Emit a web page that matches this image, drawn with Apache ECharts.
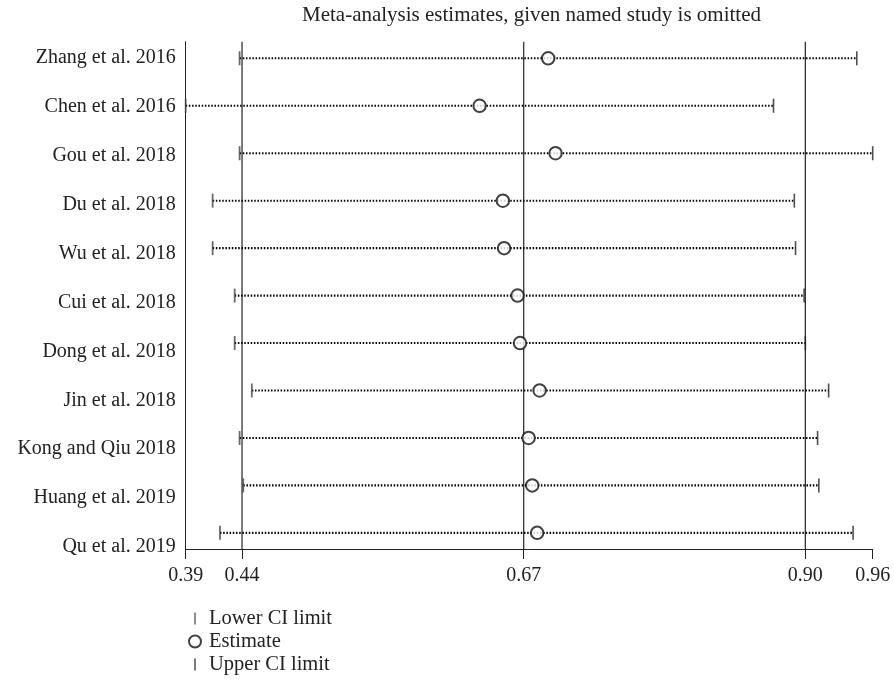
<!DOCTYPE html>
<html>
<head>
<meta charset="utf-8">
<script src="https://cdn.jsdelivr.net/npm/echarts@6/dist/echarts.min.js"></script>
<style>
  html, body { margin: 0; padding: 0; background: #fff; }
  #chart { width: 894px; height: 686px; }
</style>
</head>
<body>
<div id="chart"></div>
<script>
// Leave-one-out sensitivity analysis: pooled estimate and CI when each study is omitted
const studies = [
  'Zhang et al. 2016', 'Chen et al. 2016', 'Gou et al. 2018', 'Du et al. 2018',
  'Wu et al. 2018', 'Cui et al. 2018', 'Dong et al. 2018', 'Jin et al. 2018',
  'Kong and Qiu 2018', 'Huang et al. 2019', 'Qu et al. 2019'
];
const lowerCI  = [0.438, 0.394, 0.438, 0.416, 0.416, 0.434, 0.434, 0.448, 0.438, 0.441, 0.422];
const estimate = [0.690, 0.634, 0.696, 0.653, 0.654, 0.665, 0.667, 0.683, 0.674, 0.677, 0.681];
const upperCI  = [0.942, 0.874, 0.955, 0.891, 0.892, 0.899, 0.900, 0.919, 0.910, 0.911, 0.939];

// Axis ticks: min lower limit, overall lower CI, overall estimate, overall upper CI, max upper limit
const tickValues = [0.394, 0.44, 0.67, 0.90, 0.955];
const tickLabels = ['0.39', '0.44', '0.67', '0.90', '0.96'];
const refLines   = [0.44, 0.67, 0.90];

const FONT = '"Liberation Serif", "DejaVu Serif", serif';
const INK = '#222';

const rows = studies.map((s, i) => [i, lowerCI[i], estimate[i], upperCI[i]]);
const studyIndex = studies.map((s, i) => i);

const chart = echarts.init(document.getElementById('chart'), null, { renderer: 'canvas' });

chart.setOption({
  animation: false,
  backgroundColor: '#fff',
  textStyle: { fontFamily: FONT, color: INK },
  title: {
    text: 'Meta-analysis estimates, given named study is omitted',
    left: 297,
    top: 0,
    textStyle: { fontFamily: FONT, fontSize: 21, fontWeight: 'normal', color: INK }
  },
  legend: {
    orient: 'vertical',
    left: 183,
    top: 603,
    itemWidth: 14,
    itemHeight: 12,
    itemGap: 2,
    selectedMode: false,
    textStyle: { fontFamily: FONT, fontSize: 20.5, lineHeight: 20, color: INK, padding: [0, 0, 0, 2] },
    data: [
      { name: 'Lower CI limit', icon: 'path://M0,0h1v8h-1z' },
      { name: 'Estimate', icon: 'emptyCircle' },
      { name: 'Upper CI limit', icon: 'path://M0,0h1v8h-1z' }
    ]
  },
  grid: { left: 185.7, right: 21.3, top: 41.7, bottom: 137 },
  xAxis: {
    type: 'value',
    min: 0.394,
    max: 0.955,
    axisLine: { show: true, onZero: false, lineStyle: { color: INK, width: 1 } },
    axisTick: { show: true, length: 10, customValues: tickValues, lineStyle: { color: INK, width: 1 } },
    axisLabel: {
      customValues: tickValues,
      margin: 17,
      fontSize: 20,
      fontFamily: FONT,
      color: INK,
      formatter: v => {
        const k = tickValues.findIndex(t => Math.abs(t - v) < 1e-6);
        return k >= 0 ? tickLabels[k] : '';
      }
    },
    splitLine: { show: false }
  },
  yAxis: [
    {
      // row positions of the intervals
      type: 'value',
      min: -0.35,
      max: 10.34,
      inverse: true,
      axisLine: { show: true, onZero: false, lineStyle: { color: INK, width: 1 } },
      axisTick: { show: false },
      axisLabel: { show: false },
      splitLine: { show: false }
    },
    {
      // study names, on a slightly wider spacing than the rows
      type: 'value',
      position: 'left',
      min: -0.333,
      max: 10.041,
      inverse: true,
      axisLine: { show: false, onZero: false },
      axisTick: { show: false },
      splitLine: { show: false },
      axisLabel: {
        customValues: studyIndex,
        margin: 10,
        fontSize: 20,
        fontFamily: FONT,
        color: INK,
        formatter: v => studies[Math.round(v)] || ''
      }
    }
  ],
  series: [
    {
      // vertical reference lines at the overall CI and estimate
      type: 'custom',
      yAxisIndex: 0,
      data: refLines.map(v => [v]),
      encode: { x: 0 },
      silent: true,
      z: 1,
      renderItem: (params, api) => {
        const top = api.coord([api.value(0), -0.35]);
        const bottom = api.coord([api.value(0), 10.34]);
        return {
          type: 'line',
          shape: { x1: top[0], y1: top[1], x2: bottom[0], y2: bottom[1] },
          style: { stroke: '#333', lineWidth: 1.3 }
        };
      }
    },
    {
      // dotted interval from lower to upper limit
      type: 'custom',
      yAxisIndex: 0,
      data: rows,
      encode: { x: [1, 3], y: 0 },
      silent: true,
      z: 2,
      renderItem: (params, api) => {
        const a = api.coord([api.value(1), api.value(0)]);
        const b = api.coord([api.value(3), api.value(0)]);
        return {
          type: 'line',
          shape: { x1: a[0], y1: a[1], x2: b[0], y2: b[1] },
          style: { stroke: '#000', lineWidth: 2.1, lineDash: [1.5, 1.7] }
        };
      }
    },
    {
      name: 'Lower CI limit',
      type: 'scatter',
      yAxisIndex: 0,
      symbol: 'rect',
      symbolSize: [1.8, 14],
      itemStyle: { color: '#444' },
      z: 4,
      data: rows.map(r => [r[1], r[0]])
    },
    {
      name: 'Estimate',
      type: 'scatter',
      yAxisIndex: 0,
      symbol: 'emptyCircle',
      symbolSize: 12.5,
      itemStyle: { color: '#111', borderColor: '#111', borderWidth: 1.2 },
      z: 5,
      data: rows.map(r => [r[2], r[0]])
    },
    {
      name: 'Upper CI limit',
      type: 'scatter',
      yAxisIndex: 0,
      symbol: 'rect',
      symbolSize: [1.6, 14],
      itemStyle: { color: '#222' },
      z: 4,
      data: rows.map(r => [r[3], r[0]])
    }
  ]
});
</script>
</body>
</html>
